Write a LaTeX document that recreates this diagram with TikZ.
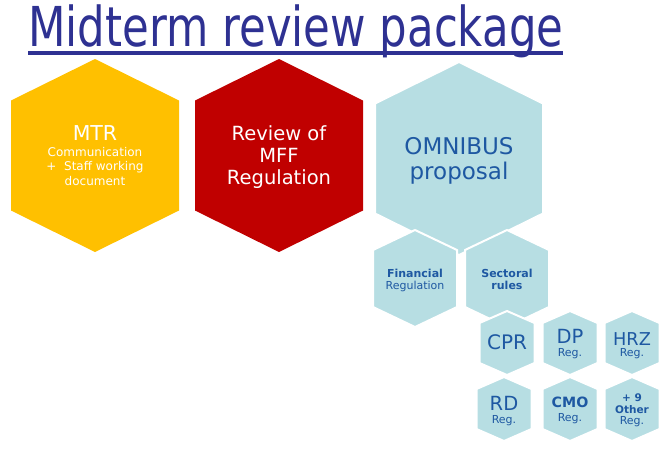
\documentclass[tikz,border=0pt]{standalone}
\usepackage{fontspec}
\setmainfont{DejaVu Sans}
\newfontfamily\titlefont[FakeStretch=0.79]{DejaVu Sans}
\definecolor{titleblue}{RGB}{46,49,146}
\definecolor{hexyellow}{RGB}{255,192,0}
\definecolor{hexred}{RGB}{192,0,0}
\definecolor{hexblue}{RGB}{183,222,227}
\definecolor{txtblue}{RGB}{30,88,162}
\newcommand\hexshape[6]{\path[#1] ({#2},{#3-#5}) -- ({#2+#4},{#3-#6}) -- ({#2+#4},{#3+#6}) -- ({#2},{#3+#5}) -- ({#2-#4},{#3+#6}) -- ({#2-#4},{#3-#6}) -- cycle;}
\newcommand\fs[1]{\fontsize{#1}{#1}\selectfont}
\tikzset{
  lbl/.style={inner sep=0pt, anchor=base},
  wlbl/.style={lbl, text=white},
  blbl/.style={lbl, text=txtblue},
  yhex/.style={fill=hexyellow},
  rhex/.style={fill=hexred},
  bhex/.style={fill=hexblue, draw=white, line width=2pt, line join=miter},
}
\begin{document}
\begin{tikzpicture}[x=1pt,y=-1pt]
\useasboundingbox (0,0) rectangle (668,448);
% title
\node[anchor=base west, inner sep=0pt, text=titleblue, font=\titlefont\fs{55}] (title) at (28,46) {Midterm review package};
\draw[titleblue, line width=3.4pt] ([yshift=-7pt]title.base west) -- ([yshift=-7pt]title.base east);
% big hexagons
\hexshape{yhex}{95}{155.5}{84}{96.5}{55}
\hexshape{rhex}{279}{155.5}{84}{96.5}{55}
\hexshape{bhex}{459}{158.5}{84}{96.5}{55}
% medium hexagons
\hexshape{bhex}{415}{278.5}{42}{48.5}{28.5}
\hexshape{bhex}{507}{278.5}{42}{48.5}{28.5}
% small hexagons
\hexshape{bhex}{507}{343}{27.5}{32}{20}
\hexshape{bhex}{570}{343}{27.5}{32}{20}
\hexshape{bhex}{632}{343}{27.5}{32}{20}
\hexshape{bhex}{504}{409}{27.5}{32}{20}
\hexshape{bhex}{570}{409}{27.5}{32}{20}
\hexshape{bhex}{632}{409}{27.5}{32}{20}
% yellow text
\node[wlbl, font=\fs{20.5}] (mtr) at (95,140) {MTR};
\node[wlbl, font=\fs{12}] (mtr1) at (95,156.5) {Communication};
\node[wlbl, font=\fs{12}] (mtr2) at (95,170.8) {+\ \ Staff working};
\node[wlbl, font=\fs{12}] (mtr3) at (95,185) {document};
% red text
\node[wlbl, font=\fs{19.5}] (mff1) at (279,140) {Review of};
\node[wlbl, font=\fs{19.5}] (mff2) at (279,162) {MFF};
\node[wlbl, font=\fs{19.5}] (mff3) at (279,184) {Regulation};
% omnibus
\node[blbl, font=\fs{23}] (omn1) at (459,154.3) {OMNIBUS};
\node[blbl, font=\fs{23}] (omn2) at (459,179) {proposal};
% medium
\node[blbl, font=\bfseries\fs{11}] (fin1) at (415,277.3) {Financial};
\node[blbl, font=\fs{11}] (fin2) at (415,289.3) {Regulation};
\node[blbl, font=\bfseries\fs{11}] (sec1) at (507,277.3) {Sectoral};
\node[blbl, font=\bfseries\fs{11}] (sec2) at (507,289.3) {rules};
% small
\node[blbl, font=\fs{20}] (cpr) at (507,349.3) {CPR};
\node[blbl, font=\fs{19.5}] (dp) at (570,343.3) {DP};
\node[blbl, font=\fs{11}] (dpr) at (570,356.7) {Reg.};
\node[blbl, font=\fs{17.7}] (hrz) at (632,345) {HRZ};
\node[blbl, font=\fs{11}] (hrzr) at (632,356.7) {Reg.};
\node[blbl, font=\fs{19.5}] (rd) at (504,410) {RD};
\node[blbl, font=\fs{11}] (rdr) at (504,423.7) {Reg.};
\node[blbl, font=\bfseries\fs{14.2}] (cmo) at (570,407.7) {CMO};
\node[blbl, font=\fs{11}] (cmor) at (570,421) {Reg.};
\node[blbl, font=\bfseries\fs{10.5}] (oth1) at (632,401.7) {+ 9};
\node[blbl, font=\bfseries\fs{10.5}] (oth2) at (632,413) {Other};
\node[blbl, font=\fs{11}] (oth3) at (632,424) {Reg.};
\end{tikzpicture}
\end{document}
